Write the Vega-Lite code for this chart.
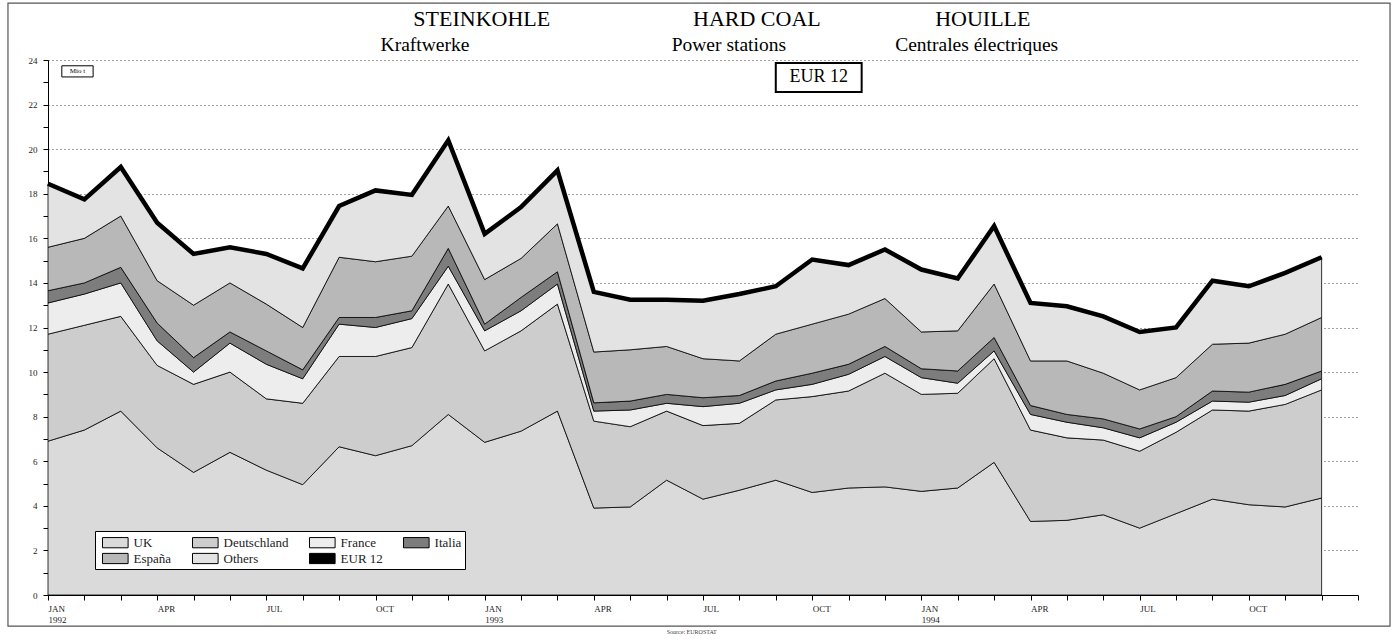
{
  "$schema": "https://vega.github.io/schema/vega-lite/v6.json",
  "width": 1310,
  "height": 535,
  "autosize": "none",
  "padding": {"left": 48, "top": 60, "right": 41, "bottom": 44},
  "background": "white",
  "config": {
    "view": {"stroke": null},
    "font": "Liberation Serif",
    "text": {"font": "Liberation Serif"},
    "axisX": {"grid": false, "labelAlign": "left", "labelPadding": 4, "labelFontSize": 9, "labelFont": "Liberation Serif", "labelColor": "#222", "tickSize": 5, "tickColor": "black", "domainColor": "black", "labelOverlap": false, "labelFlush": false, "labelLineHeight": 11, "title": null},
    "axisY": {"labelFontSize": 9, "labelFont": "Liberation Serif", "labelColor": "#222", "labelPadding": 6, "tickSize": 5, "tickColor": "black", "domainColor": "black", "grid": true, "gridColor": "#444", "gridDash": [1, 3], "gridWidth": 1, "labelOverlap": false, "title": null},
    "legend": {
      "orient": "none", "legendX": 47, "legendY": 471, "direction": "horizontal", "columns": 4,
      "fillColor": "white", "strokeColor": "black", "padding": 3,
      "symbolType": "M-0.5,-0.64h3.2v1.28h-3.2z", "symbolSize": 256, "symbolStrokeColor": "black", "symbolStrokeWidth": 1,
      "labelFont": "Liberation Serif", "labelFontSize": 13, "labelColor": "#222", "columnPadding": 16, "rowPadding": 0, "symbolOpacity": 1, "labelOffset": 18.6
    }
  },
  "datasets": {
    "c": [
      {"m":0,"s":"UK","k":1,"v":6.9},{"m":0,"s":"Deutschland","k":2,"v":4.8},{"m":0,"s":"France","k":3,"v":1.4},{"m":0,"s":"Italia","k":4,"v":0.55},{"m":0,"s":"España","k":5,"v":1.95},{"m":0,"s":"Others","k":6,"v":2.85},
      {"m":1,"s":"UK","k":1,"v":7.4},{"m":1,"s":"Deutschland","k":2,"v":4.7},{"m":1,"s":"France","k":3,"v":1.4},{"m":1,"s":"Italia","k":4,"v":0.5},{"m":1,"s":"España","k":5,"v":2.0},{"m":1,"s":"Others","k":6,"v":1.75},
      {"m":2,"s":"UK","k":1,"v":8.25},{"m":2,"s":"Deutschland","k":2,"v":4.25},{"m":2,"s":"France","k":3,"v":1.5},{"m":2,"s":"Italia","k":4,"v":0.7},{"m":2,"s":"España","k":5,"v":2.3},{"m":2,"s":"Others","k":6,"v":2.2},
      {"m":3,"s":"UK","k":1,"v":6.6},{"m":3,"s":"Deutschland","k":2,"v":3.7},{"m":3,"s":"France","k":3,"v":1.1},{"m":3,"s":"Italia","k":4,"v":0.8},{"m":3,"s":"España","k":5,"v":1.9},{"m":3,"s":"Others","k":6,"v":2.6},
      {"m":4,"s":"UK","k":1,"v":5.5},{"m":4,"s":"Deutschland","k":2,"v":3.95},{"m":4,"s":"France","k":3,"v":0.55},{"m":4,"s":"Italia","k":4,"v":0.65},{"m":4,"s":"España","k":5,"v":2.35},{"m":4,"s":"Others","k":6,"v":2.3},
      {"m":5,"s":"UK","k":1,"v":6.4},{"m":5,"s":"Deutschland","k":2,"v":3.6},{"m":5,"s":"France","k":3,"v":1.3},{"m":5,"s":"Italia","k":4,"v":0.5},{"m":5,"s":"España","k":5,"v":2.2},{"m":5,"s":"Others","k":6,"v":1.6},
      {"m":6,"s":"UK","k":1,"v":5.6},{"m":6,"s":"Deutschland","k":2,"v":3.2},{"m":6,"s":"France","k":3,"v":1.55},{"m":6,"s":"Italia","k":4,"v":0.6},{"m":6,"s":"España","k":5,"v":2.1},{"m":6,"s":"Others","k":6,"v":2.25},
      {"m":7,"s":"UK","k":1,"v":4.95},{"m":7,"s":"Deutschland","k":2,"v":3.65},{"m":7,"s":"France","k":3,"v":1.1},{"m":7,"s":"Italia","k":4,"v":0.4},{"m":7,"s":"España","k":5,"v":1.9},{"m":7,"s":"Others","k":6,"v":2.65},
      {"m":8,"s":"UK","k":1,"v":6.65},{"m":8,"s":"Deutschland","k":2,"v":4.05},{"m":8,"s":"France","k":3,"v":1.45},{"m":8,"s":"Italia","k":4,"v":0.3},{"m":8,"s":"España","k":5,"v":2.7},{"m":8,"s":"Others","k":6,"v":2.3},
      {"m":9,"s":"UK","k":1,"v":6.25},{"m":9,"s":"Deutschland","k":2,"v":4.45},{"m":9,"s":"France","k":3,"v":1.3},{"m":9,"s":"Italia","k":4,"v":0.45},{"m":9,"s":"España","k":5,"v":2.5},{"m":9,"s":"Others","k":6,"v":3.2},
      {"m":10,"s":"UK","k":1,"v":6.7},{"m":10,"s":"Deutschland","k":2,"v":4.4},{"m":10,"s":"France","k":3,"v":1.3},{"m":10,"s":"Italia","k":4,"v":0.35},{"m":10,"s":"España","k":5,"v":2.45},{"m":10,"s":"Others","k":6,"v":2.75},
      {"m":11,"s":"UK","k":1,"v":8.1},{"m":11,"s":"Deutschland","k":2,"v":5.85},{"m":11,"s":"France","k":3,"v":0.8},{"m":11,"s":"Italia","k":4,"v":0.8},{"m":11,"s":"España","k":5,"v":1.9},{"m":11,"s":"Others","k":6,"v":2.95},
      {"m":12,"s":"UK","k":1,"v":6.85},{"m":12,"s":"Deutschland","k":2,"v":4.1},{"m":12,"s":"France","k":3,"v":0.9},{"m":12,"s":"Italia","k":4,"v":0.3},{"m":12,"s":"España","k":5,"v":2.0},{"m":12,"s":"Others","k":6,"v":2.05},
      {"m":13,"s":"UK","k":1,"v":7.35},{"m":13,"s":"Deutschland","k":2,"v":4.5},{"m":13,"s":"France","k":3,"v":0.9},{"m":13,"s":"Italia","k":4,"v":0.6},{"m":13,"s":"España","k":5,"v":1.75},{"m":13,"s":"Others","k":6,"v":2.3},
      {"m":14,"s":"UK","k":1,"v":8.25},{"m":14,"s":"Deutschland","k":2,"v":4.8},{"m":14,"s":"France","k":3,"v":0.9},{"m":14,"s":"Italia","k":4,"v":0.55},{"m":14,"s":"España","k":5,"v":2.15},{"m":14,"s":"Others","k":6,"v":2.4},
      {"m":15,"s":"UK","k":1,"v":3.9},{"m":15,"s":"Deutschland","k":2,"v":3.9},{"m":15,"s":"France","k":3,"v":0.45},{"m":15,"s":"Italia","k":4,"v":0.37},{"m":15,"s":"España","k":5,"v":2.28},{"m":15,"s":"Others","k":6,"v":2.7},
      {"m":16,"s":"UK","k":1,"v":3.95},{"m":16,"s":"Deutschland","k":2,"v":3.6},{"m":16,"s":"France","k":3,"v":0.75},{"m":16,"s":"Italia","k":4,"v":0.4},{"m":16,"s":"España","k":5,"v":2.3},{"m":16,"s":"Others","k":6,"v":2.25},
      {"m":17,"s":"UK","k":1,"v":5.15},{"m":17,"s":"Deutschland","k":2,"v":3.1},{"m":17,"s":"France","k":3,"v":0.35},{"m":17,"s":"Italia","k":4,"v":0.4},{"m":17,"s":"España","k":5,"v":2.15},{"m":17,"s":"Others","k":6,"v":2.1},
      {"m":18,"s":"UK","k":1,"v":4.3},{"m":18,"s":"Deutschland","k":2,"v":3.3},{"m":18,"s":"France","k":3,"v":0.85},{"m":18,"s":"Italia","k":4,"v":0.4},{"m":18,"s":"España","k":5,"v":1.75},{"m":18,"s":"Others","k":6,"v":2.6},
      {"m":19,"s":"UK","k":1,"v":4.7},{"m":19,"s":"Deutschland","k":2,"v":3.0},{"m":19,"s":"France","k":3,"v":0.9},{"m":19,"s":"Italia","k":4,"v":0.35},{"m":19,"s":"España","k":5,"v":1.55},{"m":19,"s":"Others","k":6,"v":3.0},
      {"m":20,"s":"UK","k":1,"v":5.15},{"m":20,"s":"Deutschland","k":2,"v":3.6},{"m":20,"s":"France","k":3,"v":0.45},{"m":20,"s":"Italia","k":4,"v":0.4},{"m":20,"s":"España","k":5,"v":2.1},{"m":20,"s":"Others","k":6,"v":2.15},
      {"m":21,"s":"UK","k":1,"v":4.6},{"m":21,"s":"Deutschland","k":2,"v":4.3},{"m":21,"s":"France","k":3,"v":0.55},{"m":21,"s":"Italia","k":4,"v":0.5},{"m":21,"s":"España","k":5,"v":2.2},{"m":21,"s":"Others","k":6,"v":2.9},
      {"m":22,"s":"UK","k":1,"v":4.8},{"m":22,"s":"Deutschland","k":2,"v":4.35},{"m":22,"s":"France","k":3,"v":0.75},{"m":22,"s":"Italia","k":4,"v":0.45},{"m":22,"s":"España","k":5,"v":2.25},{"m":22,"s":"Others","k":6,"v":2.2},
      {"m":23,"s":"UK","k":1,"v":4.85},{"m":23,"s":"Deutschland","k":2,"v":5.1},{"m":23,"s":"France","k":3,"v":0.75},{"m":23,"s":"Italia","k":4,"v":0.45},{"m":23,"s":"España","k":5,"v":2.15},{"m":23,"s":"Others","k":6,"v":2.2},
      {"m":24,"s":"UK","k":1,"v":4.65},{"m":24,"s":"Deutschland","k":2,"v":4.35},{"m":24,"s":"France","k":3,"v":0.75},{"m":24,"s":"Italia","k":4,"v":0.4},{"m":24,"s":"España","k":5,"v":1.65},{"m":24,"s":"Others","k":6,"v":2.8},
      {"m":25,"s":"UK","k":1,"v":4.8},{"m":25,"s":"Deutschland","k":2,"v":4.25},{"m":25,"s":"France","k":3,"v":0.45},{"m":25,"s":"Italia","k":4,"v":0.55},{"m":25,"s":"España","k":5,"v":1.8},{"m":25,"s":"Others","k":6,"v":2.35},
      {"m":26,"s":"UK","k":1,"v":5.95},{"m":26,"s":"Deutschland","k":2,"v":4.65},{"m":26,"s":"France","k":3,"v":0.35},{"m":26,"s":"Italia","k":4,"v":0.6},{"m":26,"s":"España","k":5,"v":2.4},{"m":26,"s":"Others","k":6,"v":2.6},
      {"m":27,"s":"UK","k":1,"v":3.3},{"m":27,"s":"Deutschland","k":2,"v":4.1},{"m":27,"s":"France","k":3,"v":0.7},{"m":27,"s":"Italia","k":4,"v":0.4},{"m":27,"s":"España","k":5,"v":2.0},{"m":27,"s":"Others","k":6,"v":2.6},
      {"m":28,"s":"UK","k":1,"v":3.35},{"m":28,"s":"Deutschland","k":2,"v":3.7},{"m":28,"s":"France","k":3,"v":0.7},{"m":28,"s":"Italia","k":4,"v":0.35},{"m":28,"s":"España","k":5,"v":2.4},{"m":28,"s":"Others","k":6,"v":2.45},
      {"m":29,"s":"UK","k":1,"v":3.6},{"m":29,"s":"Deutschland","k":2,"v":3.35},{"m":29,"s":"France","k":3,"v":0.55},{"m":29,"s":"Italia","k":4,"v":0.4},{"m":29,"s":"España","k":5,"v":2.05},{"m":29,"s":"Others","k":6,"v":2.55},
      {"m":30,"s":"UK","k":1,"v":3.0},{"m":30,"s":"Deutschland","k":2,"v":3.45},{"m":30,"s":"France","k":3,"v":0.6},{"m":30,"s":"Italia","k":4,"v":0.4},{"m":30,"s":"España","k":5,"v":1.75},{"m":30,"s":"Others","k":6,"v":2.6},
      {"m":31,"s":"UK","k":1,"v":3.65},{"m":31,"s":"Deutschland","k":2,"v":3.65},{"m":31,"s":"France","k":3,"v":0.45},{"m":31,"s":"Italia","k":4,"v":0.25},{"m":31,"s":"España","k":5,"v":1.75},{"m":31,"s":"Others","k":6,"v":2.25},
      {"m":32,"s":"UK","k":1,"v":4.3},{"m":32,"s":"Deutschland","k":2,"v":4.0},{"m":32,"s":"France","k":3,"v":0.4},{"m":32,"s":"Italia","k":4,"v":0.45},{"m":32,"s":"España","k":5,"v":2.1},{"m":32,"s":"Others","k":6,"v":2.85},
      {"m":33,"s":"UK","k":1,"v":4.05},{"m":33,"s":"Deutschland","k":2,"v":4.2},{"m":33,"s":"France","k":3,"v":0.4},{"m":33,"s":"Italia","k":4,"v":0.45},{"m":33,"s":"España","k":5,"v":2.2},{"m":33,"s":"Others","k":6,"v":2.55},
      {"m":34,"s":"UK","k":1,"v":3.95},{"m":34,"s":"Deutschland","k":2,"v":4.6},{"m":34,"s":"France","k":3,"v":0.4},{"m":34,"s":"Italia","k":4,"v":0.5},{"m":34,"s":"España","k":5,"v":2.25},{"m":34,"s":"Others","k":6,"v":2.75},
      {"m":35,"s":"UK","k":1,"v":4.35},{"m":35,"s":"Deutschland","k":2,"v":4.85},{"m":35,"s":"France","k":3,"v":0.5},{"m":35,"s":"Italia","k":4,"v":0.35},{"m":35,"s":"España","k":5,"v":2.4},{"m":35,"s":"Others","k":6,"v":2.7}
    ],
    "t": [
      {"m":0,"v":18.45},{"m":1,"v":17.75},{"m":2,"v":19.2},{"m":3,"v":16.7},{"m":4,"v":15.3},{"m":5,"v":15.6},
      {"m":6,"v":15.3},{"m":7,"v":14.65},{"m":8,"v":17.45},{"m":9,"v":18.15},{"m":10,"v":17.95},{"m":11,"v":20.4},
      {"m":12,"v":16.2},{"m":13,"v":17.4},{"m":14,"v":19.05},{"m":15,"v":13.6},{"m":16,"v":13.25},{"m":17,"v":13.25},
      {"m":18,"v":13.2},{"m":19,"v":13.5},{"m":20,"v":13.85},{"m":21,"v":15.05},{"m":22,"v":14.8},{"m":23,"v":15.5},
      {"m":24,"v":14.6},{"m":25,"v":14.2},{"m":26,"v":16.55},{"m":27,"v":13.1},{"m":28,"v":12.95},{"m":29,"v":12.5},
      {"m":30,"v":11.8},{"m":31,"v":12.0},{"m":32,"v":14.1},{"m":33,"v":13.85},{"m":34,"v":14.45},{"m":35,"v":15.15}
    ],
    "one": [{}]
  },
  "layer": [
    {
      "data": {"name": "one"},
      "mark": {"type": "rect", "fill": null, "fillOpacity": 0, "stroke": "#555", "strokeWidth": 1.2, "clip": false},
      "encoding": {
        "x": {"datum": -1.1, "axis": {"values": [0,1,2,3,4,5,6,7,8,9,10,11,12,13,14,15,16,17,18,19,20,21,22,23,24,25,26,27,28,29,30,31,32,33,34,35,36], "labelExpr": "datum.value >= 36 ? '' : datum.value % 12 == 0 ? ['JAN', '' + (1992 + datum.value / 12)] : datum.value % 3 == 0 ? (datum.value % 12 == 3 ? 'APR' : datum.value % 12 == 6 ? 'JUL' : 'OCT') : ''"}},
        "x2": {"datum": 36.88},
        "y": {"datum": 26.55, "axis": {"values": [0,1,2,3,4,5,6,7,8,9,10,11,12,13,14,15,16,17,18,19,20,21,22,23,24], "labelExpr": "datum.value % 2 == 0 ? datum.label : ''", "gridOpacity": {"condition": {"test": "datum.value % 2 == 0 && datum.value > 0", "value": 1}, "value": 0}}},
        "y2": {"datum": -1.4}
      }
    },
    {
      "data": {"name": "c"},
      "mark": {"type": "area", "stroke": "black", "strokeWidth": 0.8, "interpolate": "linear", "opacity": 1},
      "encoding": {
        "x": {"field": "m", "type": "quantitative", "title": null, "scale": {"domain": [0, 36], "nice": false, "zero": false},
          "axis": {"values": [0,1,2,3,4,5,6,7,8,9,10,11,12,13,14,15,16,17,18,19,20,21,22,23,24,25,26,27,28,29,30,31,32,33,34,35,36], "labelExpr": "datum.value >= 36 ? '' : datum.value % 12 == 0 ? ['JAN', '' + (1992 + datum.value / 12)] : datum.value % 3 == 0 ? (datum.value % 12 == 3 ? 'APR' : datum.value % 12 == 6 ? 'JUL' : 'OCT') : ''"}},
        "y": {"field": "v", "type": "quantitative", "stack": "zero", "title": null, "scale": {"domain": [0, 24], "nice": false},
          "axis": {"values": [0,1,2,3,4,5,6,7,8,9,10,11,12,13,14,15,16,17,18,19,20,21,22,23,24], "labelExpr": "datum.value % 2 == 0 ? datum.label : ''", "gridOpacity": {"condition": {"test": "datum.value % 2 == 0 && datum.value > 0", "value": 1}, "value": 0}}},
        "fill": {
          "field": "s", "type": "nominal",
          "scale": {
            "domain": ["UK", "Deutschland", "France", "Italia", "España", "Others", "EUR 12"],
            "range": ["#dadada", "#cdcdcd", "#ededed", "#7d7d7d", "#b8b8b8", "#e3e3e3", "#000000"]
          },
          "legend": {"title": null}
        },
        "order": {"field": "k", "type": "quantitative"}
      }
    },
    {
      "data": {"name": "t"},
      "mark": {"type": "line", "color": "black", "strokeWidth": 4.5, "strokeJoin": "miter"},
      "encoding": {
        "x": {"field": "m", "type": "quantitative", "title": null,
          "axis": {"values": [0,1,2,3,4,5,6,7,8,9,10,11,12,13,14,15,16,17,18,19,20,21,22,23,24,25,26,27,28,29,30,31,32,33,34,35,36], "labelExpr": "datum.value >= 36 ? '' : datum.value % 12 == 0 ? ['JAN', '' + (1992 + datum.value / 12)] : datum.value % 3 == 0 ? (datum.value % 12 == 3 ? 'APR' : datum.value % 12 == 6 ? 'JUL' : 'OCT') : ''"}},
        "y": {"field": "v", "type": "quantitative", "title": null,
          "axis": {"values": [0,1,2,3,4,5,6,7,8,9,10,11,12,13,14,15,16,17,18,19,20,21,22,23,24], "labelExpr": "datum.value % 2 == 0 ? datum.label : ''", "gridOpacity": {"condition": {"test": "datum.value % 2 == 0 && datum.value > 0", "value": 1}, "value": 0}}}
      }
    },
    {
      "data": {"name": "one"},
      "mark": {"type": "text", "text": "STEINKOHLE", "fontSize": 22, "align": "center", "baseline": "middle"},
      "encoding": {
        "x": {"datum": 11.92, "axis": {"values": [0,1,2,3,4,5,6,7,8,9,10,11,12,13,14,15,16,17,18,19,20,21,22,23,24,25,26,27,28,29,30,31,32,33,34,35,36], "labelExpr": "datum.value >= 36 ? '' : datum.value % 12 == 0 ? ['JAN', '' + (1992 + datum.value / 12)] : datum.value % 3 == 0 ? (datum.value % 12 == 3 ? 'APR' : datum.value % 12 == 6 ? 'JUL' : 'OCT') : ''"}},
        "y": {"datum": 25.86, "axis": {"values": [0,1,2,3,4,5,6,7,8,9,10,11,12,13,14,15,16,17,18,19,20,21,22,23,24], "labelExpr": "datum.value % 2 == 0 ? datum.label : ''", "gridOpacity": {"condition": {"test": "datum.value % 2 == 0 && datum.value > 0", "value": 1}, "value": 0}}}
      }
    },
    {
      "data": {"name": "one"},
      "mark": {"type": "text", "text": "HARD COAL", "fontSize": 22, "align": "center", "baseline": "middle"},
      "encoding": {
        "x": {"datum": 19.48, "axis": {"values": [0,1,2,3,4,5,6,7,8,9,10,11,12,13,14,15,16,17,18,19,20,21,22,23,24,25,26,27,28,29,30,31,32,33,34,35,36], "labelExpr": "datum.value >= 36 ? '' : datum.value % 12 == 0 ? ['JAN', '' + (1992 + datum.value / 12)] : datum.value % 3 == 0 ? (datum.value % 12 == 3 ? 'APR' : datum.value % 12 == 6 ? 'JUL' : 'OCT') : ''"}},
        "y": {"datum": 25.86, "axis": {"values": [0,1,2,3,4,5,6,7,8,9,10,11,12,13,14,15,16,17,18,19,20,21,22,23,24], "labelExpr": "datum.value % 2 == 0 ? datum.label : ''", "gridOpacity": {"condition": {"test": "datum.value % 2 == 0 && datum.value > 0", "value": 1}, "value": 0}}}
      }
    },
    {
      "data": {"name": "one"},
      "mark": {"type": "text", "text": "HOUILLE", "fontSize": 22, "align": "center", "baseline": "middle"},
      "encoding": {
        "x": {"datum": 25.69, "axis": {"values": [0,1,2,3,4,5,6,7,8,9,10,11,12,13,14,15,16,17,18,19,20,21,22,23,24,25,26,27,28,29,30,31,32,33,34,35,36], "labelExpr": "datum.value >= 36 ? '' : datum.value % 12 == 0 ? ['JAN', '' + (1992 + datum.value / 12)] : datum.value % 3 == 0 ? (datum.value % 12 == 3 ? 'APR' : datum.value % 12 == 6 ? 'JUL' : 'OCT') : ''"}},
        "y": {"datum": 25.86, "axis": {"values": [0,1,2,3,4,5,6,7,8,9,10,11,12,13,14,15,16,17,18,19,20,21,22,23,24], "labelExpr": "datum.value % 2 == 0 ? datum.label : ''", "gridOpacity": {"condition": {"test": "datum.value % 2 == 0 && datum.value > 0", "value": 1}, "value": 0}}}
      }
    },
    {
      "data": {"name": "one"},
      "mark": {"type": "text", "text": "Kraftwerke", "fontSize": 19.5, "align": "center", "baseline": "middle"},
      "encoding": {
        "x": {"datum": 10.36, "axis": {"values": [0,1,2,3,4,5,6,7,8,9,10,11,12,13,14,15,16,17,18,19,20,21,22,23,24,25,26,27,28,29,30,31,32,33,34,35,36], "labelExpr": "datum.value >= 36 ? '' : datum.value % 12 == 0 ? ['JAN', '' + (1992 + datum.value / 12)] : datum.value % 3 == 0 ? (datum.value % 12 == 3 ? 'APR' : datum.value % 12 == 6 ? 'JUL' : 'OCT') : ''"}},
        "y": {"datum": 24.68, "axis": {"values": [0,1,2,3,4,5,6,7,8,9,10,11,12,13,14,15,16,17,18,19,20,21,22,23,24], "labelExpr": "datum.value % 2 == 0 ? datum.label : ''", "gridOpacity": {"condition": {"test": "datum.value % 2 == 0 && datum.value > 0", "value": 1}, "value": 0}}}
      }
    },
    {
      "data": {"name": "one"},
      "mark": {"type": "text", "text": "Power stations", "fontSize": 19.5, "align": "center", "baseline": "middle"},
      "encoding": {
        "x": {"datum": 18.71, "axis": {"values": [0,1,2,3,4,5,6,7,8,9,10,11,12,13,14,15,16,17,18,19,20,21,22,23,24,25,26,27,28,29,30,31,32,33,34,35,36], "labelExpr": "datum.value >= 36 ? '' : datum.value % 12 == 0 ? ['JAN', '' + (1992 + datum.value / 12)] : datum.value % 3 == 0 ? (datum.value % 12 == 3 ? 'APR' : datum.value % 12 == 6 ? 'JUL' : 'OCT') : ''"}},
        "y": {"datum": 24.68, "axis": {"values": [0,1,2,3,4,5,6,7,8,9,10,11,12,13,14,15,16,17,18,19,20,21,22,23,24], "labelExpr": "datum.value % 2 == 0 ? datum.label : ''", "gridOpacity": {"condition": {"test": "datum.value % 2 == 0 && datum.value > 0", "value": 1}, "value": 0}}}
      }
    },
    {
      "data": {"name": "one"},
      "mark": {"type": "text", "text": "Centrales électriques", "fontSize": 19.5, "align": "center", "baseline": "middle"},
      "encoding": {
        "x": {"datum": 25.52, "axis": {"values": [0,1,2,3,4,5,6,7,8,9,10,11,12,13,14,15,16,17,18,19,20,21,22,23,24,25,26,27,28,29,30,31,32,33,34,35,36], "labelExpr": "datum.value >= 36 ? '' : datum.value % 12 == 0 ? ['JAN', '' + (1992 + datum.value / 12)] : datum.value % 3 == 0 ? (datum.value % 12 == 3 ? 'APR' : datum.value % 12 == 6 ? 'JUL' : 'OCT') : ''"}},
        "y": {"datum": 24.68, "axis": {"values": [0,1,2,3,4,5,6,7,8,9,10,11,12,13,14,15,16,17,18,19,20,21,22,23,24], "labelExpr": "datum.value % 2 == 0 ? datum.label : ''", "gridOpacity": {"condition": {"test": "datum.value % 2 == 0 && datum.value > 0", "value": 1}, "value": 0}}}
      }
    },
    {
      "data": {"name": "one"},
      "mark": {"type": "rect", "fill": "white", "stroke": "black", "strokeWidth": 2},
      "encoding": {
        "x": {"datum": 20.0, "axis": {"values": [0,1,2,3,4,5,6,7,8,9,10,11,12,13,14,15,16,17,18,19,20,21,22,23,24,25,26,27,28,29,30,31,32,33,34,35,36], "labelExpr": "datum.value >= 36 ? '' : datum.value % 12 == 0 ? ['JAN', '' + (1992 + datum.value / 12)] : datum.value % 3 == 0 ? (datum.value % 12 == 3 ? 'APR' : datum.value % 12 == 6 ? 'JUL' : 'OCT') : ''"}},
        "x2": {"datum": 22.36},
        "y": {"datum": 23.87, "axis": {"values": [0,1,2,3,4,5,6,7,8,9,10,11,12,13,14,15,16,17,18,19,20,21,22,23,24], "labelExpr": "datum.value % 2 == 0 ? datum.label : ''", "gridOpacity": {"condition": {"test": "datum.value % 2 == 0 && datum.value > 0", "value": 1}, "value": 0}}},
        "y2": {"datum": 22.57}
      }
    },
    {
      "data": {"name": "one"},
      "mark": {"type": "text", "text": "EUR 12", "fontSize": 18, "align": "center", "baseline": "middle"},
      "encoding": {
        "x": {"datum": 21.18, "axis": {"values": [0,1,2,3,4,5,6,7,8,9,10,11,12,13,14,15,16,17,18,19,20,21,22,23,24,25,26,27,28,29,30,31,32,33,34,35,36], "labelExpr": "datum.value >= 36 ? '' : datum.value % 12 == 0 ? ['JAN', '' + (1992 + datum.value / 12)] : datum.value % 3 == 0 ? (datum.value % 12 == 3 ? 'APR' : datum.value % 12 == 6 ? 'JUL' : 'OCT') : ''"}},
        "y": {"datum": 23.22, "axis": {"values": [0,1,2,3,4,5,6,7,8,9,10,11,12,13,14,15,16,17,18,19,20,21,22,23,24], "labelExpr": "datum.value % 2 == 0 ? datum.label : ''", "gridOpacity": {"condition": {"test": "datum.value % 2 == 0 && datum.value > 0", "value": 1}, "value": 0}}}
      }
    },
    {
      "data": {"name": "one"},
      "mark": {"type": "rect", "fill": "white", "stroke": "black", "strokeWidth": 1},
      "encoding": {
        "x": {"datum": 0.38, "axis": {"values": [0,1,2,3,4,5,6,7,8,9,10,11,12,13,14,15,16,17,18,19,20,21,22,23,24,25,26,27,28,29,30,31,32,33,34,35,36], "labelExpr": "datum.value >= 36 ? '' : datum.value % 12 == 0 ? ['JAN', '' + (1992 + datum.value / 12)] : datum.value % 3 == 0 ? (datum.value % 12 == 3 ? 'APR' : datum.value % 12 == 6 ? 'JUL' : 'OCT') : ''"}},
        "x2": {"datum": 1.24},
        "y": {"datum": 23.74, "axis": {"values": [0,1,2,3,4,5,6,7,8,9,10,11,12,13,14,15,16,17,18,19,20,21,22,23,24], "labelExpr": "datum.value % 2 == 0 ? datum.label : ''", "gridOpacity": {"condition": {"test": "datum.value % 2 == 0 && datum.value > 0", "value": 1}, "value": 0}}},
        "y2": {"datum": 23.24}
      }
    },
    {
      "data": {"name": "one"},
      "mark": {"type": "text", "text": "Mio t", "fontSize": 7, "align": "center", "baseline": "middle"},
      "encoding": {
        "x": {"datum": 0.81, "axis": {"values": [0,1,2,3,4,5,6,7,8,9,10,11,12,13,14,15,16,17,18,19,20,21,22,23,24,25,26,27,28,29,30,31,32,33,34,35,36], "labelExpr": "datum.value >= 36 ? '' : datum.value % 12 == 0 ? ['JAN', '' + (1992 + datum.value / 12)] : datum.value % 3 == 0 ? (datum.value % 12 == 3 ? 'APR' : datum.value % 12 == 6 ? 'JUL' : 'OCT') : ''"}},
        "y": {"datum": 23.49, "axis": {"values": [0,1,2,3,4,5,6,7,8,9,10,11,12,13,14,15,16,17,18,19,20,21,22,23,24], "labelExpr": "datum.value % 2 == 0 ? datum.label : ''", "gridOpacity": {"condition": {"test": "datum.value % 2 == 0 && datum.value > 0", "value": 1}, "value": 0}}}
      }
    },
    {
      "data": {"name": "one"},
      "mark": {"type": "text", "text": "Source: EUROSTAT", "fontSize": 6, "align": "center", "baseline": "middle", "color": "#444"},
      "encoding": {
        "x": {"datum": 17.69, "axis": {"values": [0,1,2,3,4,5,6,7,8,9,10,11,12,13,14,15,16,17,18,19,20,21,22,23,24,25,26,27,28,29,30,31,32,33,34,35,36], "labelExpr": "datum.value >= 36 ? '' : datum.value % 12 == 0 ? ['JAN', '' + (1992 + datum.value / 12)] : datum.value % 3 == 0 ? (datum.value % 12 == 3 ? 'APR' : datum.value % 12 == 6 ? 'JUL' : 'OCT') : ''"}},
        "y": {"datum": -1.65, "axis": {"values": [0,1,2,3,4,5,6,7,8,9,10,11,12,13,14,15,16,17,18,19,20,21,22,23,24], "labelExpr": "datum.value % 2 == 0 ? datum.label : ''", "gridOpacity": {"condition": {"test": "datum.value % 2 == 0 && datum.value > 0", "value": 1}, "value": 0}}}
      }
    }
  ]
}
